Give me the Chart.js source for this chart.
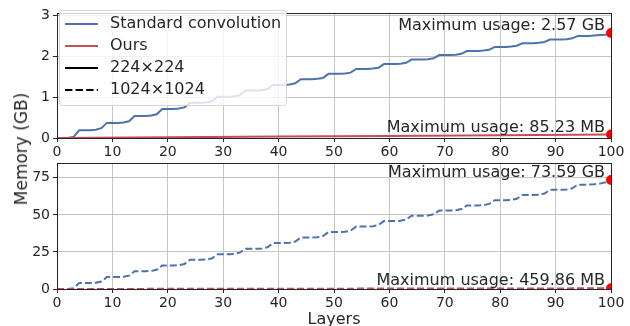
<!DOCTYPE html>
<html>
<head>
<meta charset="utf-8">
<script src="https://cdn.jsdelivr.net/npm/chart.js@4.4.0/dist/chart.umd.min.js"></script>
<style>
  html, body { margin: 0; padding: 0; background: #fff; overflow: hidden; }
  #wrap { position: relative; width: 630px; height: 326px; }
  canvas { position: absolute; left: 0; }
  #topChart { top: 0; }
  #bottomChart { top: 150px; }
  #ylabel {
    position: absolute; left: 21px; top: 149px;
    transform: translate(-50%, -50%) rotate(-90deg);
    font: 17px "DejaVu Sans"; color: #262626; white-space: nowrap;
  }
</style>
</head>
<body>
<div id="wrap">
  <canvas id="topChart" width="630" height="165"></canvas>
  <canvas id="bottomChart" width="630" height="180"></canvas>
  <div id="ylabel">Memory (GB)</div>
</div>
<script>
// layers 0..100
const layers = Array.from({ length: 101 }, (_, i) => i);
const xTicks = [0, 10, 20, 30, 40, 50, 60, 70, 80, 90, 100];
const yTicksSmall = [0, 1, 2, 3];
const yTicksLarge = [0, 25, 50, 75];

// standard convolution, 224x224 (GB per layer)
const stdSmall = [
  0, 0, 0, 0.03,
  0.19, 0.19, 0.19, 0.20, 0.24,
  0.37, 0.37, 0.37, 0.38, 0.41,
  0.54, 0.54, 0.54, 0.55, 0.58,
  0.71, 0.71, 0.71, 0.72, 0.75,
  0.86, 0.86, 0.86, 0.87, 0.90,
  1.01, 1.01, 1.01, 1.02, 1.05,
  1.16, 1.16, 1.16, 1.17, 1.20,
  1.30, 1.30, 1.30, 1.31, 1.34,
  1.44, 1.44, 1.44, 1.45, 1.47,
  1.57, 1.57, 1.57, 1.58, 1.60,
  1.69, 1.69, 1.69, 1.70, 1.72,
  1.81, 1.81, 1.81, 1.82, 1.84,
  1.92, 1.92, 1.92, 1.93, 1.95,
  2.03, 2.03, 2.03, 2.04, 2.06,
  2.13, 2.13, 2.13, 2.14, 2.16,
  2.23, 2.23, 2.23, 2.24, 2.26,
  2.32, 2.32, 2.32, 2.33, 2.35,
  2.41, 2.41, 2.41, 2.42, 2.44,
  2.50, 2.50, 2.50, 2.51, 2.52,
  2.53, 2.57
];

// standard convolution, 1024x1024 (GB per layer)
const stdLarge = [
  0, 0, 0, 0.5,
  4.05, 4.05, 4.05, 4.2, 5.0,
  8.1, 8.1, 8.1, 8.3, 9.0,
  12.0, 12.0, 12.0, 12.2, 13.0,
  15.9, 15.9, 15.9, 16.1, 16.9,
  19.7, 19.7, 19.7, 19.9, 20.7,
  23.5, 23.5, 23.5, 23.7, 24.5,
  27.2, 27.2, 27.2, 27.4, 28.2,
  31.0, 31.0, 31.0, 31.2, 32.0,
  34.7, 34.7, 34.7, 34.9, 35.7,
  38.4, 38.4, 38.4, 38.6, 39.4,
  42.1, 42.1, 42.1, 42.3, 43.1,
  45.8, 45.8, 45.8, 46.0, 46.8,
  49.4, 49.4, 49.4, 49.6, 50.4,
  52.9, 52.9, 52.9, 53.1, 53.9,
  56.4, 56.4, 56.4, 56.6, 57.4,
  59.9, 59.9, 59.9, 60.1, 60.9,
  63.4, 63.4, 63.4, 63.6, 64.4,
  66.9, 66.9, 66.9, 67.1, 67.9,
  70.4, 70.4, 70.4, 70.6, 71.1,
  72.0, 73.59
];

// ours (GB)
const oursLayers = [0, 20, 40, 60, 80, 100];
const oursSmall = [0.003, 0.018, 0.034, 0.05, 0.066, 0.0832];
const oursLarge = [0.02, 0.1, 0.19, 0.28, 0.37, 0.449];

const notesSmall = ["Maximum usage: 2.57 GB", "Maximum usage: 85.23 MB"];
const notesLarge = ["Maximum usage: 73.59 GB", "Maximum usage: 459.86 MB"];
const legendLabels = ["Standard convolution", "Ours", "224\u00d7224", "1024\u00d71024"];

const FONT = '"DejaVu Sans"';
const INK = "#262626";
const GRID = "#c4c4c4";
const BLUE = "#4C72B0";
const RED = "#C44E52";

// frame, max-usage notes and the legend box inside the axes
const decor = {
  id: "decor",
  afterDatasetsDraw(chart, args, opts) {
    const { ctx, chartArea: a, scales } = chart;
    ctx.save();
    ctx.strokeStyle = INK;
    ctx.lineWidth = 1;
    ctx.strokeRect(Math.round(a.left) + 0.5, Math.round(a.top) + 0.5,
      Math.round(a.right - a.left), Math.round(a.bottom - a.top));

    ctx.font = "16px " + FONT;
    ctx.fillStyle = INK;
    ctx.textAlign = "right";
    ctx.textBaseline = "alphabetic";
    opts.notes.forEach((n) => {
      ctx.fillText(n.text, scales.x.getPixelForValue(100) - 6,
        scales.y.getPixelForValue(n.value) - 3);
    });

    if (opts.legend) {
      ctx.fillStyle = "rgba(255,255,255,0.8)";
      ctx.strokeStyle = "rgba(204,204,204,0.8)";
      ctx.beginPath();
      ctx.roundRect(59.5, 10.5, 227, 95, 3);
      ctx.fill();
      ctx.stroke();
      ctx.textAlign = "left";
      ctx.textBaseline = "middle";
      opts.legend.forEach((it, i) => {
        const y = 24 + i * 22;
        ctx.strokeStyle = it.color;
        ctx.lineWidth = 2;
        ctx.setLineDash(it.dash);
        ctx.beginPath();
        ctx.moveTo(65, y);
        ctx.lineTo(98, y);
        ctx.stroke();
        ctx.setLineDash([]);
        ctx.fillStyle = INK;
        ctx.fillText(it.text, 110, y);
      });
    }
    ctx.restore();
  },
};

function makeScales(yMax, yTicks, xHeight, withTitle) {
  return {
    x: {
      type: "linear",
      min: 0,
      max: 100,
      afterBuildTicks: (s) => { s.ticks = xTicks.map((v) => ({ value: v })); },
      afterFit: (s) => { s.height = xHeight; },
      grid: { color: GRID, tickColor: INK, tickLength: 4, lineWidth: 1 },
      border: { display: false },
      ticks: { color: INK, font: { family: FONT, size: 14 }, padding: 2, maxRotation: 0, autoSkip: false },
      title: {
        display: withTitle,
        text: "Layers",
        color: INK,
        font: { family: FONT, size: 16 },
        padding: { top: 0, bottom: 1 },
      },
    },
    y: {
      type: "linear",
      min: 0,
      max: yMax,
      afterBuildTicks: (s) => { s.ticks = yTicks.map((v) => ({ value: v })); },
      afterFit: (s) => { s.width = 57; },
      grid: { color: GRID, tickColor: INK, tickLength: 4, lineWidth: 1 },
      border: { display: false },
      ticks: { color: INK, font: { family: FONT, size: 14 }, padding: 3 },
    },
  };
}

function makeChart(id, std, ours, dash, yMax, yTicks, notes, xHeight, withTitle, legend) {
  const ctx = document.getElementById(id).getContext("2d");
  return new Chart(ctx, {
    type: "line",
    data: {
      datasets: [
        {
          label: "max",
          data: [
            { x: 100, y: std[std.length - 1] },
            { x: 100, y: ours[ours.length - 1] },
          ],
          showLine: false,
          pointRadius: 5,
          pointBackgroundColor: "#ff0000",
          pointBorderWidth: 0,
          order: 0,
        },
        {
          label: "Ours",
          data: oursLayers.map((x, i) => ({ x: x, y: ours[i] })),
          borderColor: RED,
          borderWidth: 2,
          borderDash: dash,
          pointRadius: 0,
          tension: 0,
          order: 1,
        },
        {
          label: "Standard convolution",
          data: layers.map((x, i) => ({ x: x, y: std[i] })),
          borderColor: BLUE,
          borderWidth: 2,
          borderDash: dash,
          pointRadius: 0,
          tension: 0,
          order: 2,
        },
      ],
    },
    options: {
      responsive: false,
      animation: false,
      layout: { padding: { left: 0, right: 19, top: 13, bottom: 0 } },
      scales: makeScales(yMax, yTicks, xHeight, withTitle),
      plugins: {
        legend: { display: false },
        tooltip: { enabled: false },
        decor: {
          notes: [
            { text: notes[0], value: std[std.length - 1] },
            { text: notes[1], value: ours[ours.length - 1] },
          ],
          legend: legend,
        },
      },
    },
    plugins: [decor],
  });
}

makeChart("topChart", stdSmall, oursSmall, [], 3.06, yTicksSmall, notesSmall, 27, false, [
  { text: legendLabels[0], color: BLUE, dash: [] },
  { text: legendLabels[1], color: RED, dash: [] },
  { text: legendLabels[2], color: "#000", dash: [] },
  { text: legendLabels[3], color: "#000", dash: [7.4, 3.2] },
]);
makeChart("bottomChart", stdLarge, oursLarge, [7, 3], 85, yTicksLarge, notesLarge, 41, true, null);
</script>
</body>
</html>
